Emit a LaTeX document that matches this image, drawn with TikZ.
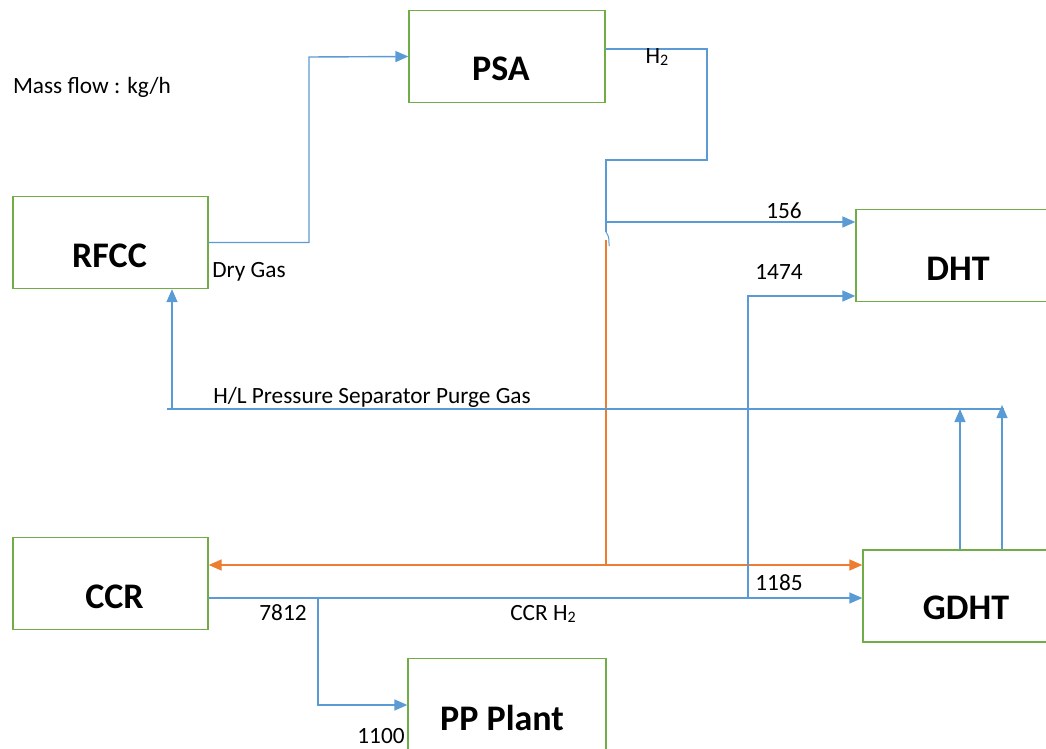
\documentclass[tikz,border=0pt]{standalone}
\usepackage{fontspec}
\setmainfont{Carlito}
\usetikzlibrary{arrows.meta,calc}
\definecolor{bxgreen}{HTML}{70AD47}
\definecolor{flblue}{HTML}{5B9BD5}
\definecolor{florange}{HTML}{ED7D31}
\newcommand{\Htwo}{H\raisebox{-0.1em}{\fontsize{16}{16}\selectfont 2}}
\tikzset{
  box/.style={draw=bxgreen, line width=1.3pt, fill=white, minimum width=#1, minimum height=92pt, inner sep=0pt},
  boxtext/.style={font=\fontsize{36}{40}\selectfont\bfseries, inner sep=0pt},
  lbl/.style={font=\fontsize{23.3}{26}\selectfont, inner sep=0pt},
  flow/.style={draw=flblue, line width=1.4pt},
  flowarr/.style={flow, -{Triangle[length=13pt,width=11pt]}},
  oflow/.style={draw=florange, line width=1.4pt},
}
\begin{document}
\begin{tikzpicture}[x=1pt,y=-1pt]
\useasboundingbox (0,0) rectangle (1046,749);
% boxes
\node[box=196pt] (psa) at (507,56.5) {};
\node[box=195pt] (rfcc) at (110.5,242.5) {};
\node[box=192pt] (dht) at (952,255.5) {};
\node[box=195pt] (ccr) at (110.5,583.5) {};
\node[box=186pt] (gdht) at (956,596) {};
\node[box=198pt] (pp) at (507,704.5) {};
\node[boxtext] (tpsa) at ($(psa.center)+(-6,12.5)$) {PSA};
\node[boxtext] (trfcc) at ($(rfcc.center)+(-1,13)$) {RFCC};
\node[boxtext] (tdht) at ($(dht.center)+(6,13)$) {DHT};
\node[boxtext] (tccr) at ($(ccr.center)+(4,13)$) {CCR};
\node[boxtext] (tgdht) at ($(gdht.center)+(10,12)$) {GDHT};
\node[boxtext] (tpp) at ($(pp.center)+(-5,13)$) {PP Plant};
% coordinates
\coordinate (b1) at (309,57);
\coordinate (h1) at (707,49);
\coordinate (h2) at (707,160);
\coordinate (h3) at (606,160);
\coordinate (j1) at (606,222);
\coordinate (j2) at (606,232);
\coordinate (j3) at (609,246);
\coordinate (o0) at (606,240);
\coordinate (o1) at (606,565);
\coordinate (c1) at (318,598);
\coordinate (c2) at (318,705);
\coordinate (c3) at (748,598);
\coordinate (c4) at (748,296);
\coordinate (p1) at (960,409);
\coordinate (p2) at (1002,405);
\coordinate (pl) at (167,409);
\coordinate (pr) at (1004,409);
\coordinate (pv) at (172,409);
% RFCC -> PSA
\draw[flowarr] (rfcc.east) -| (b1) -- (psa.west);
% PSA H2 -> DHT
\draw[flow] (psa.east |- h1) -- (h1) -- (h2) -- (h3) -- (j2);
\draw[flow, line width=1pt] (j2) .. controls (609,237) .. (j3);
\draw[flowarr] (j1) -- (dht.west |- j1);
% orange
\draw[oflow] (o0) -- (o1);
\draw[oflow, {Triangle[length=13pt,width=11pt]}-{Triangle[length=13pt,width=11pt]}] (ccr.east |- o1) -- (gdht.west |- o1);
% CCR H2
\draw[flowarr] (ccr.east |- c1) -- (gdht.west |- c1);
\draw[flowarr] (c1) -- (c2) -- (pp.west |- c2);
\draw[flowarr] (c3) -- (c4) -- (dht.west |- c4);
% purge gas
\draw[flow] (pl) -- (pr);
\draw[flowarr] (gdht.north -| p1) -- (p1);
\draw[flowarr] (gdht.north -| p2) -- (p2);
\draw[flowarr] (pv) -- (rfcc.south -| pv);
% labels
\node[lbl] (mass) at (92,87) {Mass flow : kg/h};
\node[lbl] (h2lbl) at (657,57) {\Htwo};
\node[lbl] (dry) at (249,272) {Dry Gas};
\node[lbl] (l156) at (784,211) {156};
\node[lbl] (l1474) at (779,272) {1474};
\node[lbl] (purge) at (372,397) {H/L Pressure Separator Purge Gas};
\node[lbl] (l1185) at (779,583) {1185};
\node[lbl] (l7812) at (283,613) {7812};
\node[lbl] (ccrh2) at (543,614) {CCR \Htwo};
\node[lbl] (l1100) at (381,736) {1100};
\end{tikzpicture}
\end{document}
